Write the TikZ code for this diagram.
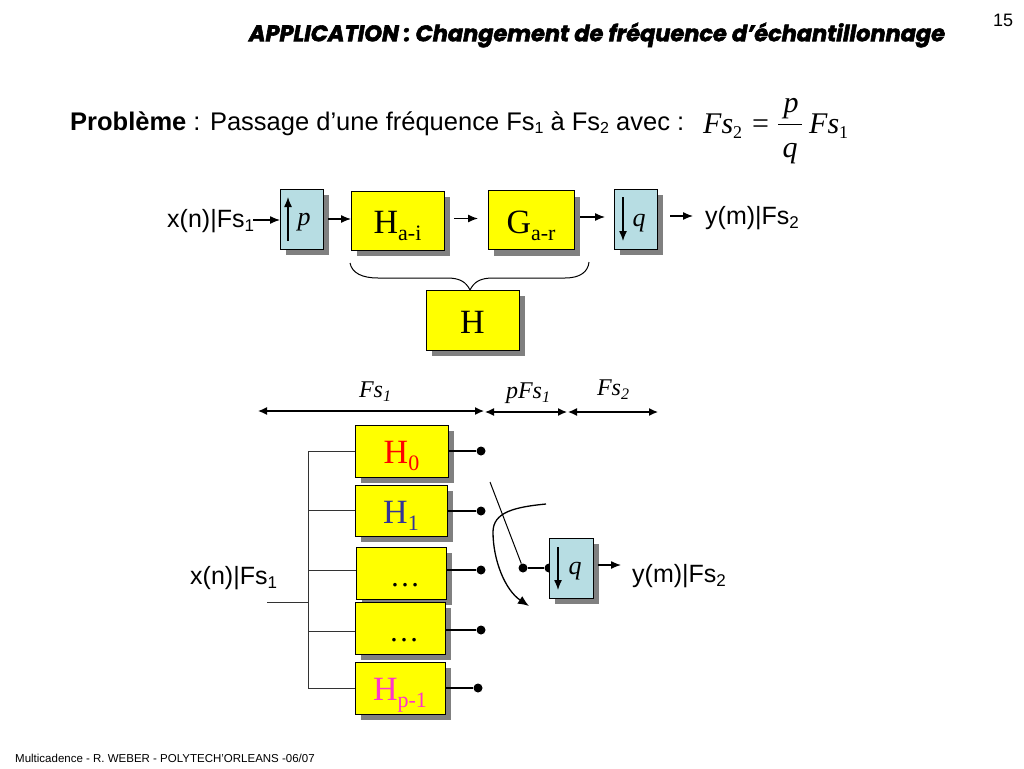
\documentclass[tikz,border=0pt]{standalone}
\usepackage{fontspec}
\usetikzlibrary{shadows,arrows.meta}
\setmainfont{Liberation Sans}
\newfontfamily\tm{Liberation Serif}
\newfontfamily\titlefont[FakeBold=2.5]{Poppins}
\definecolor{ylw}{HTML}{FFFF00}
\definecolor{lblue}{HTML}{B7DDE3}
\definecolor{shgray}{HTML}{808080}
\definecolor{hblue}{HTML}{333399}
\definecolor{hpink}{HTML}{FF33CC}
\newcommand{\hsub}[3]{\raisebox{-#1pt}[0pt][0pt]{\tm\fontsize{34}{34}\selectfont #2\raisebox{-7pt}{\fontsize{22}{22}\selectfont #3}}}
\newcommand{\sansub}[1]{\raisebox{-4pt}{\fontsize{17}{17}\selectfont #1}}
\newcommand{\tdots}[1]{\hspace*{#1pt}\raisebox{-13pt}[0pt][0pt]{\tm\fontsize{30}{30}\selectfont …}}
\tikzset{
  wbox/.style={draw=black,line width=1pt,inner sep=0pt,outer sep=0pt,
    drop shadow={shadow xshift=6pt,shadow yshift=-6pt,fill=shgray,opacity=1}},
  ybox/.style={wbox,fill=ylw},
  bbox/.style={wbox,fill=lblue,minimum width=43pt,minimum height=60pt},
  arr/.style={line width=1.3pt,-{Latex[length=10pt,width=8pt]}},
  dbl/.style={line width=1.3pt,{Latex[length=9pt,width=8pt]}-{Latex[length=9pt,width=8pt]}},
  wire/.style={line width=1pt,draw=black!80},
  sans/.style={inner sep=0pt,font=\fontsize{25}{25}\selectfont},
  ital/.style={inner sep=0pt,font=\tm\itshape\fontsize{24}{24}\selectfont},
  dot/.style={circle,fill=black,minimum size=9pt,inner sep=0pt}
}
\begin{document}
\begin{tikzpicture}[x=1pt,y=-1pt]
\useasboundingbox (0,0) rectangle (1024,768);
\node[inner sep=0pt] (title) at (597,35) {\resizebox{696pt}{!}{\titlefont\bfseries\itshape\fontsize{20}{20}\selectfont APPLICATION : Changement de fréquence d’échantillonnage}};
\node[inner sep=0pt,font=\fontsize{18}{18}\selectfont] (pageno) at (1003,20) {15};
\node[sans,anchor=base west,font=\fontsize{25.5}{25.5}\selectfont] (prob) at (70,130) {\textbf{Problème} : Passage d’une fréquence Fs\raisebox{-3pt}{\fontsize{16}{16}\selectfont 1} à Fs\raisebox{-3pt}{\fontsize{16}{16}\selectfont 2} avec :};
\node[inner sep=0pt,anchor=base west,font=\tm\fontsize{30}{30}\selectfont] (fs2) at (703,133) {\textit{Fs}\raisebox{-5pt}{\fontsize{18}{18}\selectfont 2}\kern10pt=};
\node[inner sep=0pt,anchor=base,font=\tm\itshape\fontsize{30}{30}\selectfont] (fp) at (791,112) {p};
\node[inner sep=0pt,anchor=base,font=\tm\itshape\fontsize{30}{30}\selectfont] (fq) at (790,157) {q};
\coordinate (fbarL) at (778,124);
\coordinate (fbarR) at (802,124);
\draw[line width=1pt] (fbarL) -- (fbarR);
\node[inner sep=0pt,anchor=base west,font=\tm\fontsize{30}{30}\selectfont] (fs1) at (809,133) {\textit{Fs}\raisebox{-5pt}{\fontsize{18}{18}\selectfont 1}};

% top chain
\node[sans,anchor=base west] (xtop) at (167,227) {x(n)|Fs\sansub{1}};
\node[bbox] (pbox) at (301.5,219) {};
\node[ybox,minimum width=93pt,minimum height=59pt] (hai) at (397.5,220.5) {\hsub{12.5}{H}{a-i}};
\node[ybox,minimum width=86pt,minimum height=59pt] (gar) at (531,220) {\hsub{13}{G}{a-r}};
\node[bbox] (qbox) at (635.5,219) {};
\node[ital,font=\tm\itshape\fontsize{26}{26}\selectfont] (plab) at (304,222) {p};
\node[ital,font=\tm\itshape\fontsize{26}{26}\selectfont] (qlab) at (639,223) {q};
\node[sans,anchor=base west] (ytop) at (705,224) {y(m)|Fs\sansub{2}};
\draw[arr] (253,220) -- (pbox.west |- 0,220);
\draw[arr] ([xshift=5pt]pbox.east) -- (pbox.east -| hai.west);
\draw[arr] ([xshift=10pt,yshift=2pt]hai.east) -- ([xshift=-10pt,yshift=2pt]hai.east -| gar.west);
\draw[arr] ([xshift=6pt,yshift=3pt]gar.east) -- ([xshift=-9pt,yshift=3pt]gar.east -| qbox.west);
\draw[arr] ([xshift=13pt,yshift=3pt]qbox.east) -- ([xshift=36pt,yshift=3pt]qbox.east);
\draw[arr] ([xshift=8pt,yshift=8pt]pbox.south west) -- ([xshift=8pt,yshift=-8pt]pbox.north west);
\draw[arr] ([xshift=9pt,yshift=-8pt]qbox.north west) -- ([xshift=9pt,yshift=8pt]qbox.south west);

% H box and brace
\node[ybox,minimum width=93pt,minimum height=60pt] (hbox) at (472.5,320) {\hsub{13}{H}{}};
\draw[line width=1pt] (350,263) .. controls (352,273) and (362,278) .. (378,278) -- (447,278)
  .. controls (460,278) and (466,282) .. (470,290) .. controls (474,282) and (480,278) .. (493,278)
  -- (565,278) .. controls (580,278) and (588,272) .. (589,262);

% rate arrows
\coordinate (r0) at (258,411);
\coordinate (r1) at (484,411);
\coordinate (r2) at (485,412);
\coordinate (r3) at (567,412);
\coordinate (r4) at (568,412);
\coordinate (r5) at (658,412);
\draw[dbl] (r0) -- (r1);
\draw[dbl] (r2) -- (r3);
\draw[dbl] (r4) -- (r5);
\node[ital] (lfs1) at (375,392) {Fs\raisebox{-4pt}{\fontsize{16}{16}\selectfont 1}};
\node[ital] (lpfs1) at (528,393) {pFs\raisebox{-4pt}{\fontsize{16}{16}\selectfont 1}};
\node[ital] (lfs2) at (613,390) {Fs\raisebox{-4pt}{\fontsize{16}{16}\selectfont 2}};

% filter bank
\node[ybox,minimum width=93pt,minimum height=52pt] (h0) at (401.5,451) {\color{red}\hsub{12}{H}{0}};
\node[ybox,minimum width=92pt,minimum height=51pt] (h1) at (401,510.5) {\color{hblue}\hsub{12.5}{H}{1}};
\node[ybox,minimum width=90pt,minimum height=52pt] (h2) at (401,573) {\tdots{8}};
\node[ybox,minimum width=90pt,minimum height=52pt] (h3) at (400,628) {\tdots{8}};
\node[ybox,minimum width=90pt,minimum height=52pt] (hp) at (400,688) {\color{hpink}\hsub{12}{H}{p-1}};

\coordinate (bus) at (308,451);
\coordinate (busin) at (267,602);
\draw[wire] (h0.west) -- (h0.west -| bus) -- (hp.west -| bus) -- (hp.west);
\draw[wire] (h1.west) -- (h1.west -| bus);
\draw[wire] (h2.west |- 0,570) -- (bus |- 0,570);
\draw[wire] (h3.west |- 0,631) -- (bus |- 0,631);
\draw[wire] (busin) -- (busin -| bus);

\node[dot] (d0) at (481,451) {};
\node[dot] (d1) at (481,511) {};
\node[dot] (d2) at (481,570) {};
\node[dot] (d3) at (481,630) {};
\node[dot] (d4) at (478,688) {};
\draw[line width=1.2pt] (h0.east |- d0) -- (d0);
\draw[line width=1.2pt] (h1.east |- d1) -- (d1);
\draw[line width=1.2pt] (h2.east |- d2) -- (d2);
\draw[line width=1.2pt] (h3.east |- d3) -- (d3);
\draw[line width=1.2pt] (hp.east |- d4) -- (d4);

% switch and output
\node[dot] (sw) at (523,568) {};
\node[dot] (swq) at (549,568) {};
\draw[line width=1.2pt] (sw) -- (swq);
\node[bbox,minimum width=44pt] (q2) at (571,568) {};
\node[ital,font=\tm\itshape\fontsize{26}{26}\selectfont] (q2lab) at (575,571) {q};
\draw[arr] ([xshift=9pt,yshift=-9pt]q2.north west) -- ([xshift=9pt,yshift=8pt]q2.south west);
\coordinate (swtop) at (490,482);
\draw[line width=1pt] (swtop) -- (sw);
\coordinate (cstart) at (546,504);
\coordinate (cend) at (529,606);
\draw[line width=1.3pt,-{Latex[length=11pt,width=9pt]}] (cstart) .. controls (515,507) and (493,512) .. (493,532) .. controls (493,560) and (505,590) .. (cend);
\draw[arr] ([xshift=5pt,yshift=3pt]q2.east) -- ([xshift=28pt,yshift=3pt]q2.east);
\node[sans,anchor=base west] (ybot) at (632,582) {y(m)|Fs\sansub{2}};
\node[sans,anchor=base west] (xbot) at (190,584) {x(n)|Fs\sansub{1}};

\node[inner sep=0pt,anchor=west,font=\fontsize{11.5}{11.5}\selectfont] (foot) at (15,758) {Multicadence - R. WEBER - POLYTECH'ORLEANS -06/07};
\end{tikzpicture}
\end{document}
